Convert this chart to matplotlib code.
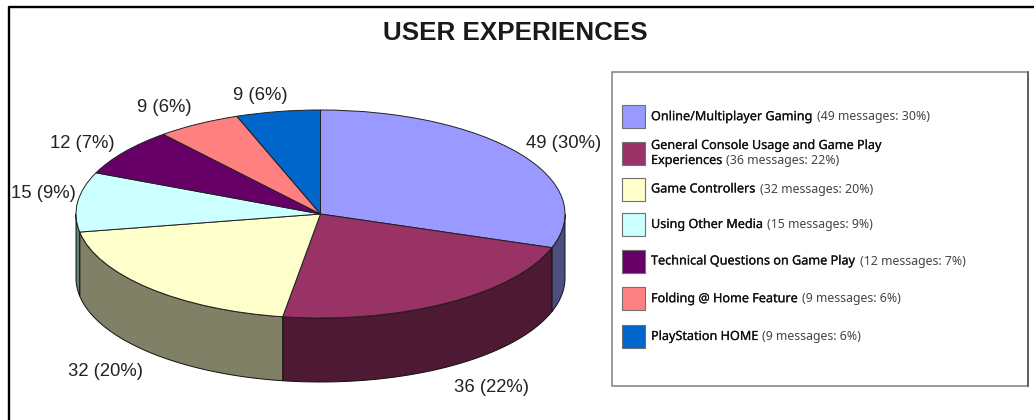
import numpy as np
import matplotlib
matplotlib.use("Agg")
import matplotlib.pyplot as plt
import matplotlib.patheffects as pe
from matplotlib.patches import Rectangle

titleText = "USER EXPERIENCES"
names = ["Online/Multiplayer Gaming",
         "General Console Usage and Game Play\nExperiences",
         "Game Controllers",
         "Using Other Media",
         "Technical Questions on Game Play",
         "Folding @ Home Feature",
         "PlayStation HOME"]
messages = [49, 36, 32, 15, 12, 9, 9]
percents = [30, 22, 20, 9, 7, 6, 6]
topColors = ["#9999FF", "#993366", "#FFFFCC", "#CCFFFF", "#660066", "#FF8080", "#0066CC"]
sideColors = ["#4D4D80", "#4D1933", "#808066", "#668080", "#330033", "#804040", "#003366"]

W, H = 1034, 420
# pie geometry in pixels
cx, cy, rx, ry, depth = 320.5, 214.0, 244.5, 104.0, 64.0

fig = plt.figure(figsize=(W / 100.0, H / 100.0), dpi=100)
fig.patch.set_facecolor("white")

ax = fig.add_axes([0, 0, 1, 1])
wedges, _ = ax.pie(messages, colors=topColors, startangle=90, counterclock=False,
                   wedgeprops={"edgecolor": "#202020", "linewidth": 0.7, "zorder": 5})
ax.set_aspect("auto")
ax.set_xlim(-cx / rx, (W - cx) / rx)
ax.set_ylim((cy - H) / ry, cy / ry)
ax.axis("off")

# side wall, only the front half of the rim shows
d = depth / ry
edges = np.concatenate([[0], np.cumsum(messages)]) * 2 * np.pi / np.sum(messages)
for i in range(len(messages)):
    a0 = max(edges[i], np.pi / 2)
    a1 = min(edges[i + 1], 3 * np.pi / 2)
    if a1 <= a0:
        continue
    t = np.linspace(a0, a1, 80)
    x = np.sin(t)
    y = np.cos(t)
    ax.fill(np.concatenate([x, x[::-1]]), np.concatenate([y, y[::-1] - d]),
            facecolor=sideColors[i], edgecolor="#101010", linewidth=0.7, zorder=2)

# overlay in pixel coordinates for frame, labels and legend
pix = fig.add_axes([0, 0, 1, 1])
pix.set_xlim(0, W)
pix.set_ylim(H, 0)
pix.axis("off")
pix.patch.set_alpha(0)

# frame has no right or bottom side in the crop
pix.plot([9, 9, W], [H, 7, 7], color="black", linewidth=1.7)

pix.text(515.5, 32.5, titleText, ha="center", va="center", fontsize=18.7,
         family="Liberation Sans", fontweight="bold", color="#1a1a1a")

labelPos = [(564, 143), (491, 388), (105, 372), (43, 194), (82, 143), (164, 108), (260, 96)]
for i in range(len(messages)):
    pix.text(labelPos[i][0], labelPos[i][1], "%d (%d%%)" % (messages[i], percents[i]),
             ha="center", va="center", fontsize=13.3, family="Liberation Sans", color="#222222")

# legend
pix.add_patch(Rectangle((612, 72), 416, 313.5, facecolor="white", edgecolor="#808080", linewidth=1.1))
pix.plot([1028, 1028], [72, 386], color="#505050", linewidth=1.1)
rowY = [116.7, 153, 189, 224.5, 261, 298.7, 336.5]
for i in range(len(names)):
    pix.add_patch(Rectangle((621.5, rowY[i] - 11.5), 23, 23, facecolor=topColors[i],
                            edgecolor="#707070", linewidth=0.8))
    rest = "(%d messages: %d%%)" % (messages[i], percents[i])
    lines = names[i].split("\n")
    y0 = rowY[i] - 7.5 * (len(lines) - 1)
    for j, line in enumerate(lines):
        t = pix.text(651, y0 + 15 * j, line, ha="left", va="center", fontsize=9.1,
                     family="Noto Sans", color="#111111",
                     path_effects=[pe.withStroke(linewidth=0.15, foreground="#111111")])
    fig.canvas.draw()
    bb = t.get_window_extent()
    pix.text(bb.x1 + 4, y0 + 15 * (len(lines) - 1), rest, ha="left", va="center",
             fontsize=8.9, family="Noto Sans", color="#444444")

plt.savefig("out.png", dpi=100)
